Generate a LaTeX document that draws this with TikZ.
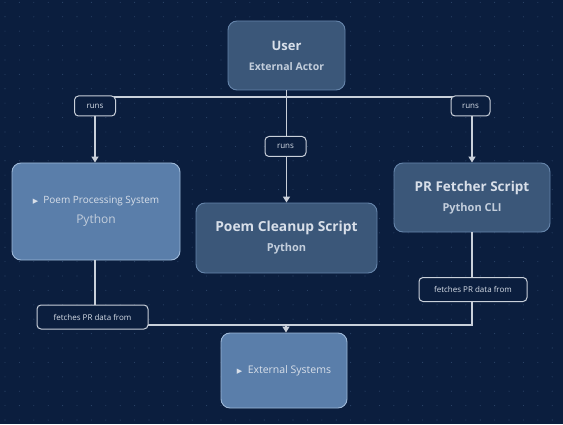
\documentclass[tikz,border=0pt]{standalone}
\usepackage{fontspec}
\setmainfont{Open Sans}
\newfontfamily\symfont{DejaVu Sans}
\usetikzlibrary{arrows.meta}
\definecolor{bg}{HTML}{0B1E3E}
\definecolor{dotc}{HTML}{2C4468}
\definecolor{darkfill}{HTML}{3B5779}
\definecolor{darkline}{HTML}{6584AA}
\definecolor{lightfill}{HTML}{5A7EAA}
\definecolor{lightline}{HTML}{9DB8D8}
\definecolor{txt}{HTML}{D8DFE9}
\definecolor{subtxt}{HTML}{C3CEDC}
\definecolor{edge}{HTML}{C9D0DA}
\tikzset{
  darkbox/.style={draw=darkline, fill=darkfill, rounded corners=9pt, line width=0.9pt, text=txt, align=center, inner sep=2pt},
  lightbox/.style={draw=lightline, fill=lightfill, rounded corners=9pt, line width=0.9pt, text=txt, align=center, inner sep=2pt},
  lbl/.style={draw=edge, fill=bg, rounded corners=4pt, line width=1pt, text=txt, font=\fontsize{8}{10}\selectfont, inner sep=0pt},
  conn/.style={draw=edge, line width=1.3pt},
  arr/.style={conn, -{Triangle[length=6pt,width=7pt]}},
}
\begin{document}
\begin{tikzpicture}[x=1pt,y=1pt]
\fill[bg] (0,0) rectangle (563,424);
\useasboundingbox (0,0) rectangle (563,424);
\foreach \i in {0,...,39} {
  \foreach \j in {0,...,29} {
    \fill[dotc] (5+\i*14.4, 4+\j*14.4) circle (0.55pt);
  }
}
% main nodes
\node[darkbox, minimum width=117pt, minimum height=69pt] (user) at (286.5,368.5)
  {{\fontsize{13}{15}\selectfont\bfseries User}\\[8pt]{\fontsize{10.5}{13}\selectfont\bfseries\color{subtxt} External Actor}};
\node[lightbox, minimum width=168pt, minimum height=97pt] (pps) at (96,212.5)
  {{\fontsize{10}{12}\selectfont{\symfont\fontsize{7}{9}\selectfont ▶}\ \ Poem Processing System}\\[8pt]{\fontsize{12}{14}\selectfont\color{subtxt} Python}};
\node[darkbox, minimum width=181pt, minimum height=70pt] (pcs) at (286.5,186)
  {{\fontsize{13.8}{16}\selectfont\bfseries Poem Cleanup Script}\\[8pt]{\fontsize{11}{13}\selectfont\bfseries\color{subtxt} Python}};
\node[darkbox, minimum width=156pt, minimum height=69pt] (prf) at (472,226.5)
  {{\fontsize{13.5}{16}\selectfont\bfseries PR Fetcher Script}\\[8pt]{\fontsize{11}{13}\selectfont\bfseries\color{subtxt} Python CLI}};
\node[lightbox, minimum width=126pt, minimum height=75pt] (ext) at (284,53.5)
  {{\fontsize{10.5}{13}\selectfont{\symfont\fontsize{7}{9}\selectfont ▶}\ \ External Systems}};
% connectors
\coordinate (topbus) at (0,327);
\coordinate (lowbus) at (0,99);
\draw[conn] (user.south) -- (user.south |- topbus);
\draw[conn] (95,327) -- (prf.north |- topbus);
\draw[arr] (95,327) -- (95,0 |- pps.north);
\draw[arr] (user.south |- topbus) -- (pcs.north);
\draw[arr] (prf.north |- topbus) -- (prf.north);
\draw[conn] (95,0 |- pps.south) |- (lowbus -| prf.south) -- (prf.south);
\draw[arr] (286,99) -- (286,0 |- ext.north);
% labels
\node[lbl, minimum width=41pt, minimum height=20pt] (runsA) at (95,318) {runs};
\node[lbl, minimum width=41pt, minimum height=20pt] (runsB) at (285.5,277.5) {runs};
\node[lbl, minimum width=39pt, minimum height=20pt] (runsC) at (470.5,318) {runs};
\node[lbl, minimum width=111pt, minimum height=24pt] (fetchA) at (92.5,107) {fetches PR data from};
\node[lbl, minimum width=108pt, minimum height=24pt] (fetchB) at (473,134.5) {fetches PR data from};
\end{tikzpicture}
\end{document}
